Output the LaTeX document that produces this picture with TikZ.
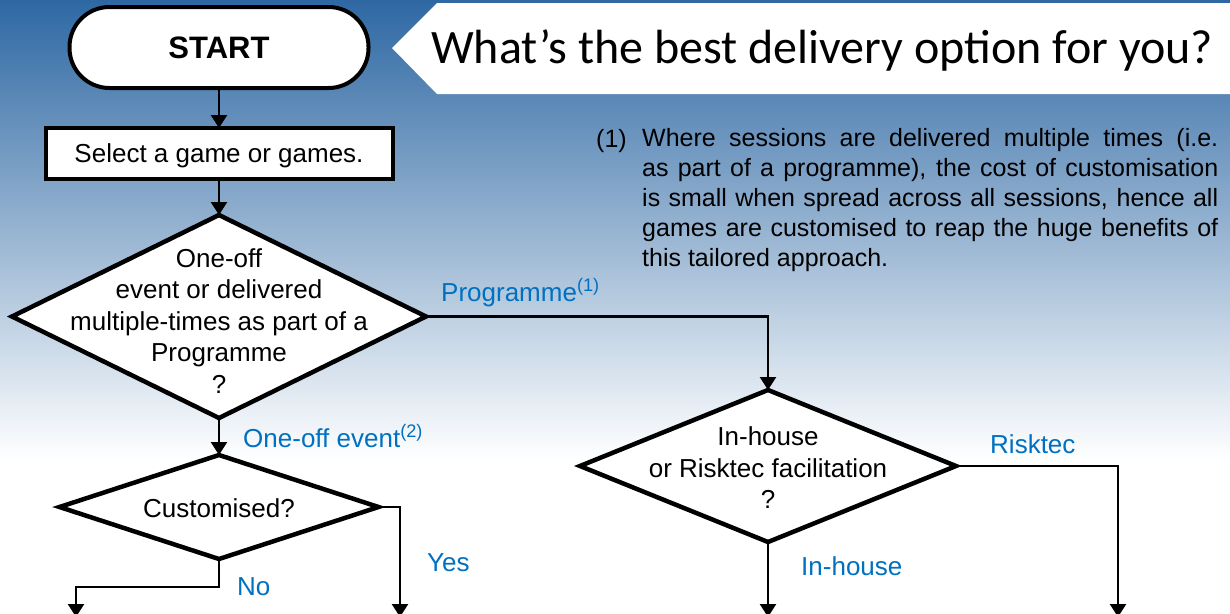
\documentclass[tikz,border=0pt]{standalone}
\usepackage{fontspec}
\setmainfont{Liberation Sans}
\newfontfamily\titlefont{Carlito}
\usetikzlibrary{shapes.geometric,arrows.meta}
\definecolor{lblue}{RGB}{0,112,192}
\definecolor{bgtop}{RGB}{46,104,163}
\begin{document}
\begin{tikzpicture}[x=1pt,y=-1pt,
  term/.style={draw, fill=white, line width=4pt, rounded corners=40pt, minimum width=299pt, minimum height=81pt, inner sep=0pt, outer sep=0pt, font=\bfseries\fontsize{31}{31}\selectfont},
  proc/.style={draw, fill=white, line width=4pt, minimum width=347pt, minimum height=51pt, inner sep=0pt, outer sep=0pt, font=\fontsize{26}{31.5}\selectfont},
  dia/.style={diamond, draw, fill=white, line width=4.5pt, inner sep=0pt, outer sep=0pt},
  dtext/.style={align=center, inner sep=0pt, font=\fontsize{26}{31.5}\selectfont},
  lbl/.style={text=lblue, inner sep=0pt, font=\fontsize{26}{31.5}\selectfont},
  arr/.style={line width=2.5pt, -{Triangle[length=13pt,width=16pt]}}
]
\useasboundingbox (0,0) rectangle (1230,613);
\shade[top color=bgtop, bottom color=white] (0,0) rectangle (1230,460);
\fill[white] (0,460) rectangle (1230,613);
% title banner
\fill[white] (392,48) -- (437,3) -- (1230,3) -- (1230,94) -- (437,94) -- cycle;
\node[anchor=base west, inner sep=0pt, font=\titlefont\fontsize{48}{48}\selectfont] (title) at (431,63) {What’s the best delivery option for you?};
% footnote
\node[anchor=base west, inner sep=0pt, font=\fontsize{25}{30}\selectfont] (fnnum) at (596,147) {(1)};
\node[anchor=north west, inner sep=0pt, text width=576pt, align=justify, font=\fontsize{25}{30}\selectfont] (fn) at (642,128) {Where sessions are delivered multiple times (i.e.\linebreak as part of a programme), the cost of customisation\linebreak is small when spread across all sessions, hence all\linebreak games are customised to reap the huge benefits of\linebreak this tailored approach.};
% nodes
\node[term] (start) at (219,47.5) {START};
\node[proc] (sel) at (219,153.5) {};
\node[dtext, anchor=base] (selt) at (219,162) {Select a game or games.};
\node[dia, minimum width=414pt, minimum height=203pt] (d1) at (219,316.5) {};
\node[dtext] (d1t) at (219,321) {One-off\\event or delivered\\multiple-times as part of a\\Programme\\?};
\node[dia, minimum width=319pt, minimum height=104pt] (d2) at (219,507) {};
\node[dtext] (d2t) at (219,508) {Customised?};
\node[dia, minimum width=376pt, minimum height=152pt] (d3) at (768,466) {};
\node[dtext] (d3t) at (768,468) {In-house\\or Risktec facilitation\\?};
% end coordinates
\coordinate (noend) at (76,617);
\coordinate (nobend) at (219,587);
\coordinate (yesend) at (400,617);
\coordinate (inend) at (768,617);
\coordinate (riskend) at (1118,617);
% connectors
\draw[arr] (start.south) -- (sel.north);
\draw[arr] (sel.south) -- (d1.north);
\draw[arr] (d1.south) -- (d2.north);
\draw[arr] (d1.east) -| (d3.north);
\draw[arr] (d2.east) -| (yesend);
\draw[arr] (d2.south) -- (nobend) -| (noend);
\draw[arr] (d3.east) -| (riskend);
\draw[arr] (d3.south) -- (inend);
% labels
\node[lbl, anchor=base west] (lprog) at (441,301) {Programme\textsuperscript{(1)}};
\node[lbl, anchor=base west] (lone) at (243,447) {One-off event\textsuperscript{(2)}};
\node[lbl, anchor=base west] (lyes) at (427,571) {Yes};
\node[lbl, anchor=base west] (lno) at (237,595) {No};
\node[lbl, anchor=base west] (lrisk) at (990,453) {Risktec};
\node[lbl, anchor=base west] (lin) at (801,575) {In-house};
\end{tikzpicture}
\end{document}
